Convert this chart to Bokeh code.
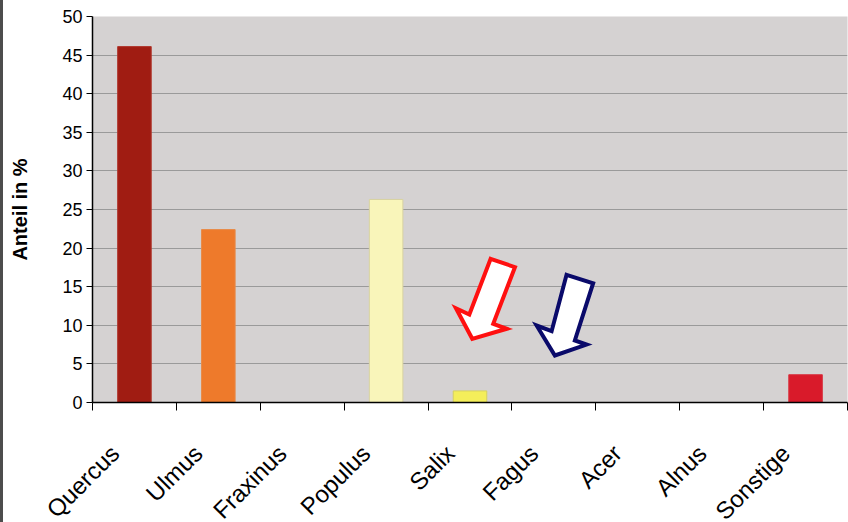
from math import pi
from bokeh.plotting import figure
from bokeh.models import (Range1d, LinearAxis, FixedTicker,
                          ColumnDataSource, Spacer, Div)
from bokeh.layouts import row, column
from bokeh.embed import file_html
from bokeh.resources import INLINE

# ---- data ----
categories = ["Quercus", "Ulmus", "Fraxinus", "Populus", "Salix",
              "Fagus", "Acer", "Alnus", "Sonstige"]
anteil = [46.1, 22.4, 0.0, 26.3, 1.5, 0.0, 0.0, 0.0, 3.6]
bar_colors = ["#A01C12", "#EE7A2B", "#CCCCCC", "#F9F5BA", "#F4EE5A",
              "#CCCCCC", "#CCCCCC", "#CCCCCC", "#D91A2A"]
bar_lines = ["#B0362C", "#E88A48", "#CCCCCC", "#D8D3A0", "#D6D060",
             "#CCCCCC", "#CCCCCC", "#CCCCCC", "#D83440"]
y_ticks = [0, 5, 10, 15, 20, 25, 30, 35, 40, 45, 50]

# annotation arrows (outline in data units: category index / percent)
red_arrow_x = [4.746, 5.036, 4.777, 4.937, 4.527, 4.333, 4.492]
red_arrow_y = [18.61, 17.53, 10.19, 9.55, 8.25, 12.21, 11.40]
navy_arrow_x = [5.651, 5.968, 5.750, 5.889, 5.512, 5.294, 5.473]
navy_arrow_y = [16.54, 15.45, 8.03, 7.51, 6.09, 9.97, 9.24]

FONT = "Liberation Sans"
n = len(categories)
centers = [i + 0.5 for i in range(n)]
bounds = list(range(n + 1))

# ---- layout constants ----
EDGE = 3           # dark page edge on the left
FIG_W = 845
LEFT = 89          # frame left border (inside the figure)
RIGHT = 1
TOP_H = 416        # height of chart figure
BOTTOM_PAD = 14
LABEL_H = 522 - TOP_H
px_per_unit = (FIG_W - LEFT - RIGHT) / n

p = figure(width=FIG_W, height=TOP_H,
           x_range=Range1d(0, n), y_range=Range1d(0, 50),
           x_axis_location=None,
           output_backend="svg", toolbar_location=None,
           min_border_left=LEFT, min_border_right=RIGHT,
           min_border_top=16, min_border_bottom=BOTTOM_PAD,
           background_fill_color="#D5D2D2",
           border_fill_color="white",
           outline_line_color=None)

# x axis: ticks on category boundaries, no tick labels
tick_axis = LinearAxis(ticker=FixedTicker(ticks=bounds),
                       major_label_overrides={b: "" for b in bounds},
                       major_label_text_font_size="0px",
                       major_label_standoff=0,
                       major_tick_out=8, major_tick_in=0,
                       major_tick_line_color="black",
                       minor_tick_line_color=None,
                       axis_line_color="black", axis_line_width=1.5)
p.add_layout(tick_axis, "below")

p.yaxis.ticker = FixedTicker(ticks=y_ticks)
p.yaxis.axis_label = "Anteil in %"
p.yaxis.axis_label_text_font = FONT
p.yaxis.axis_label_text_font_style = "bold"
p.yaxis.axis_label_text_font_size = "20px"
p.yaxis.axis_label_text_color = "black"
p.yaxis.axis_label_standoff = 28
p.yaxis.major_label_text_font = FONT
p.yaxis.major_label_text_font_size = "18px"
p.yaxis.major_label_text_color = "black"
p.yaxis.major_label_standoff = 4
p.yaxis.major_tick_out = 6
p.yaxis.major_tick_in = 0
p.yaxis.minor_tick_line_color = None
p.yaxis.axis_line_width = 1.5
p.yaxis.axis_line_color = "black"

p.ygrid.ticker = FixedTicker(ticks=y_ticks)
p.ygrid.grid_line_color = "#9A9A9A"
p.ygrid.grid_line_width = 1
p.xgrid.visible = False

src = ColumnDataSource(dict(pos=centers, val=anteil,
                            color=bar_colors, line=bar_lines))
p.vbar(x="pos", top="val", width=0.4, bottom=0, source=src,
       fill_color="color", line_color="line", line_width=1)

p.patches(xs=[red_arrow_x, navy_arrow_x], ys=[red_arrow_y, navy_arrow_y],
          fill_color="white",
          line_color=["#FF1010", "#0A0A6A"], line_width=4,
          line_join="miter")

# ---- strip below the chart carrying the rotated category labels ----
FS = 24
spans = []
for c, name in zip(centers, categories):
    cx = LEFT + c * px_per_unit              # centre, local to strip
    corner_x = cx - 10.5                      # bottom-right of rotated box
    corner_y = (455.0 - TOP_H) + 2.6
    spans.append(
        f'<span style="position:absolute;right:{FIG_W - corner_x:.1f}px;'
        f'top:{corner_y - FS:.1f}px;font-family:\'{FONT}\';'
        f'font-size:{FS}px;line-height:{FS}px;white-space:nowrap;'
        f'color:#000;transform-origin:100% 100%;'
        f'transform:rotate(-45deg);">{name}</span>')
html = (f'<div style="position:relative;width:{FIG_W}px;height:{LABEL_H}px;'
        f'overflow:hidden;background:white;">' + "".join(spans) + '</div>')
strip = Div(text=html, width=FIG_W, height=LABEL_H, margin=(0, 0, 0, 0))

layout = row(Spacer(width=EDGE, height=522,
                    styles={"background-color": "#4d4d4d"}),
             column(p, strip))

open("out.html", "w").write(file_html(layout, INLINE))
